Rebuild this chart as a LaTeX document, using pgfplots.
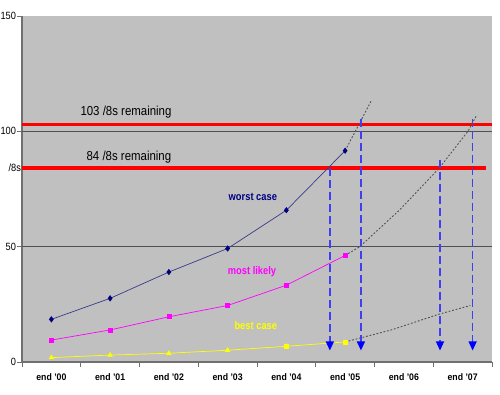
\documentclass[border=0pt]{standalone}
\usepackage{fontspec}
\setmainfont{Liberation Sans}
\usepackage{pgfplots}
\pgfplotsset{compat=1.18}
\usetikzlibrary{arrows.meta}
\definecolor{bg}{HTML}{C0C0C0}
\definecolor{axgray}{HTML}{707070}
\definecolor{gridc}{HTML}{505050}
\definecolor{worstc}{HTML}{000080}
\definecolor{worstl}{HTML}{3A3A8C}
\definecolor{mlc}{HTML}{FF00FF}
\definecolor{bestc}{HTML}{FFFF00}
\definecolor{arrl}{HTML}{4040F0}
\definecolor{dotc}{HTML}{505050}
\begin{document}
\begin{tikzpicture}
\path[use as bounding box] (-22pt,-32pt) rectangle (478pt,362pt);
\begin{axis}[
  at={(0,0)}, anchor=south west,
  scale only axis, width=470pt, height=346pt,
  xmin=-0.5, xmax=7.5, ymin=0, ymax=150,
  axis background/.style={fill=bg},
  axis x line*=bottom, axis y line*=left,
  axis line style={draw=axgray, line width=1.3pt},
  xtick={-0.5,0.5,...,7.5}, x tick label as interval,
  xticklabels={end '00,end '01,end '02,end '03,end '04,end '05,end '06,end '07},
  ytick={0,50,100,150}, yticklabels={0,50,100,150},
  extra y ticks={84}, extra y tick labels={/8s},
  extra y tick style={major tick length=0pt},
  tick align=outside, major tick length=5pt,
  tick style={draw=axgray, line width=0.8pt},
  xticklabel style={font=\bfseries\fontsize{9.5}{10}\selectfont, xscale=0.92, yshift=-3pt},
  yticklabel style={font=\fontsize{10.5}{11}\selectfont, xscale=0.88, inner sep=1pt},
  clip=false,
]
% grid lines
\addplot[no marks, draw=gridc, line width=0.7pt] coordinates {(-0.5,50) (7.5,50)};
\addplot[no marks, draw=gridc, line width=0.7pt] coordinates {(-0.5,100) (7.5,100)};
% red threshold lines
\addplot[no marks, draw=red, line width=3.5pt] coordinates {(-0.5,103) (7.5,103)};
\addplot[no marks, draw=red, line width=3.5pt] coordinates {(-0.5,84) (7.39,84)};
% extrapolations
\addplot[no marks, draw=dotc, line width=0.9pt, dash pattern=on 1.8pt off 1.8pt] coordinates {(5,91.6) (5.44,113)};
\addplot[no marks, draw=dotc, line width=0.9pt, dash pattern=on 1.8pt off 1.8pt] coordinates {(5,46.2) (5.25,50) (5.93,66) (6.6,84) (7.09,100) (7.24,107)};
\addplot[no marks, draw=dotc, line width=0.9pt, dash pattern=on 1.8pt off 1.8pt] coordinates {(5,8.7) (5.8,14) (6.58,20.6) (7.13,24.5)};
% series
\addplot[draw=worstl, line width=0.7pt, mark=diamond*, mark size=2.6pt, mark options={fill=worstc, draw=worstc}]
  coordinates {(0,18.5) (1,27.6) (2,39) (3,49.2) (4,65.8) (5,91.6)};
\addplot[draw=mlc, line width=0.7pt, mark=square*, mark size=2pt, mark options={fill=mlc, draw=mlc}]
  coordinates {(0,9.5) (1,13.9) (2,19.6) (3,24.5) (4,33.3) (5,46.2)};
\addplot[draw=bestc, line width=0.7pt, mark=triangle*, mark size=2.5pt, mark options={fill=bestc, draw=bestc}]
  coordinates {(0,1.9) (1,3.0) (2,3.8) (3,5.1) (4,6.8)};
\addplot[draw=bestc, line width=0.7pt, mark=square*, mark size=2pt, mark options={fill=bestc, draw=bestc}]
  coordinates {(4,6.8) (5,8.7)};
% arrows
\addplot[no marks, draw=arrl, line width=1.3pt, dash pattern=on 8pt off 4pt, -{Triangle[width=8pt,length=9pt,color=blue]}]
  coordinates {(4.74,84.2) (4.74,5)};
\addplot[no marks, draw=arrl, line width=1.3pt, dash pattern=on 8pt off 4pt, -{Triangle[width=8pt,length=9pt,color=blue]}]
  coordinates {(5.269,105.5) (5.269,5)};
\addplot[no marks, draw=arrl, line width=1.3pt, dash pattern=on 8pt off 4pt, -{Triangle[width=8pt,length=9pt,color=blue]}]
  coordinates {(6.615,87.7) (6.615,5)};
\addplot[no marks, draw=arrl, line width=1.3pt, dash pattern=on 8pt off 4pt, -{Triangle[width=8pt,length=9pt,color=blue]}]
  coordinates {(7.17,105.5) (7.17,5)};
% labels
\node[font=\fontsize{13}{14}\selectfont, xscale=0.88] at (axis cs:1.27,108.5) {103 /8s remaining};
\node[font=\fontsize{13}{14}\selectfont, xscale=0.88] at (axis cs:1.32,89) {84 /8s remaining};
\node[font=\bfseries\fontsize{11}{12}\selectfont, xscale=0.85, text=worstc] at (axis cs:3.43,71.7) {worst case};
\node[font=\bfseries\fontsize{11}{12}\selectfont, xscale=0.85, text=mlc] at (axis cs:3.415,39.3) {most likely};
\node[font=\bfseries\fontsize{11}{12}\selectfont, xscale=0.85, text=bestc] at (axis cs:3.48,15.9) {best case};
\end{axis}
\end{tikzpicture}
\end{document}
